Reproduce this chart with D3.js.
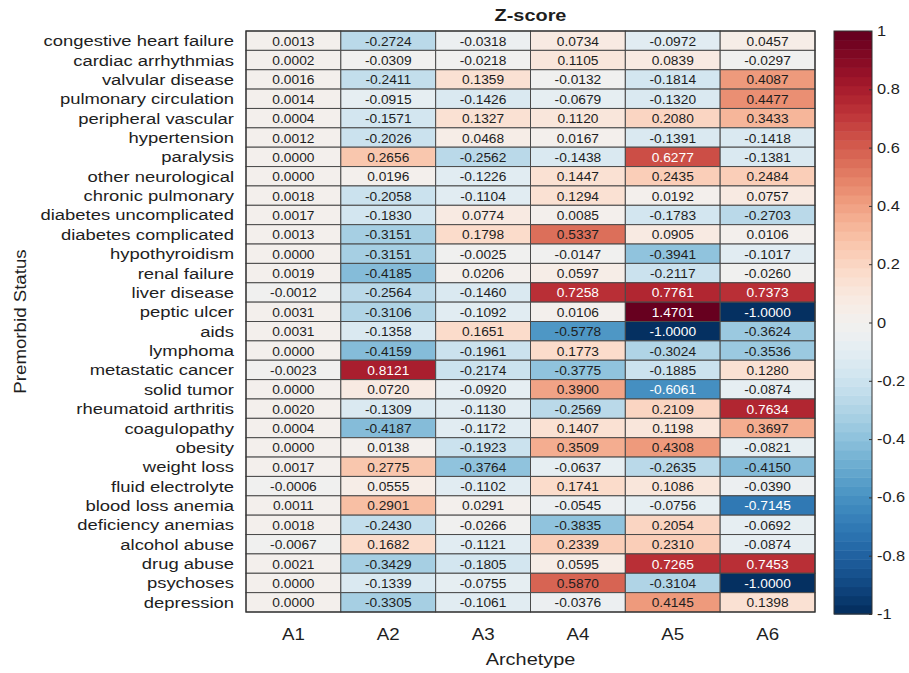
<!DOCTYPE html>
<html>
<head>
<meta charset="utf-8">
<script src="https://cdn.jsdelivr.net/npm/d3@7"></script>
<style>
  html, body { margin: 0; padding: 0; background: #fff; }
  svg { display: block; font-family: "Liberation Sans", Arial, Helvetica, sans-serif; }
</style>
</head>
<body>
<svg id="chart" width="909" height="673"></svg>
<script>
// Premorbid status categories (rows, top to bottom)
const categories = [
  "congestive heart failure", "cardiac arrhythmias", "valvular disease",
  "pulmonary circulation", "peripheral vascular", "hypertension", "paralysis",
  "other neurological", "chronic pulmonary", "diabetes uncomplicated",
  "diabetes complicated", "hypothyroidism", "renal failure", "liver disease",
  "peptic ulcer", "aids", "lymphoma", "metastatic cancer", "solid tumor",
  "rheumatoid arthritis", "coagulopathy", "obesity", "weight loss",
  "fluid electrolyte", "blood loss anemia", "deficiency anemias",
  "alcohol abuse", "drug abuse", "psychoses", "depression"
];

// Archetypes (columns)
const archetypes = ["A1", "A2", "A3", "A4", "A5", "A6"];

// Z-scores per archetype, one entry per category
const zA1 = [0.0013, 0.0002, 0.0016, 0.0014, 0.0004, 0.0012, 0.0000, 0.0000, 0.0018, 0.0017,
             0.0013, 0.0000, 0.0019, -0.0012, 0.0031, 0.0031, 0.0000, -0.0023, 0.0000, 0.0020,
             0.0004, 0.0000, 0.0017, -0.0006, 0.0011, 0.0018, -0.0067, 0.0021, 0.0000, 0.0000];
const zA2 = [-0.2724, -0.0309, -0.2411, -0.0915, -0.1571, -0.2026, 0.2656, 0.0196, -0.2058, -0.1830,
             -0.3151, -0.3151, -0.4185, -0.2564, -0.3106, -0.1358, -0.4159, 0.8121, 0.0720, -0.1309,
             -0.4187, 0.0138, 0.2775, 0.0555, 0.2901, -0.2430, 0.1682, -0.3429, -0.1339, -0.3305];
const zA3 = [-0.0318, -0.0218, 0.1359, -0.1426, 0.1327, 0.0468, -0.2562, -0.1226, -0.1104, 0.0774,
             0.1798, -0.0025, 0.0206, -0.1460, -0.1092, 0.1651, -0.1961, -0.2174, -0.0920, -0.1130,
             -0.1172, -0.1923, -0.3764, -0.1102, 0.0291, -0.0266, -0.1121, -0.1805, -0.0755, -0.1061];
const zA4 = [0.0734, 0.1105, -0.0132, -0.0679, 0.1120, 0.0167, -0.1438, 0.1447, 0.1294, 0.0085,
             0.5337, -0.0147, 0.0597, 0.7258, 0.0106, -0.5778, 0.1773, -0.3775, 0.3900, -0.2569,
             0.1407, 0.3509, -0.0637, 0.1741, -0.0545, -0.3835, 0.2339, 0.0595, 0.5870, -0.0376];
const zA5 = [-0.0972, 0.0839, -0.1814, -0.1320, 0.2080, -0.1391, 0.6277, 0.2435, 0.0192, -0.1783,
             0.0905, -0.3941, -0.2117, 0.7761, 1.4701, -1.0000, -0.3024, -0.1885, -0.6061, 0.2109,
             0.1198, 0.4308, -0.2635, 0.1086, -0.0756, 0.2054, 0.2310, 0.7265, -0.3104, 0.4145];
const zA6 = [0.0457, -0.0297, 0.4087, 0.4477, 0.3433, -0.1418, -0.1381, 0.2484, 0.0757, -0.2703,
             0.0106, -0.1017, -0.0260, 0.7373, -1.0000, -0.3624, -0.3536, 0.1280, -0.0874, 0.7634,
             0.3697, -0.0821, -0.4150, -0.0390, -0.7145, -0.0692, -0.0874, 0.7453, -1.0000, 0.1398];

// Colour bar tick values
const cbarTicks = [1, 0.8, 0.6, 0.4, 0.2, 0, -0.2, -0.4, -0.6, -0.8, -1];

const columns = [zA1, zA2, zA3, zA4, zA5, zA6];
const cells = [];
columns.forEach((col, j) => col.forEach((v, i) => cells.push({ row: categories[i], col: archetypes[j], value: v })));

const svg = d3.select("#chart");
const plot = { left: 246, right: 815, top: 31, bottom: 612 };
const ink = "#1e1e1e";
const stretch = 1.17;   // slightly wide lettering

const x = d3.scaleBand().domain(archetypes).range([plot.left, plot.right]).padding(0);
const y = d3.scaleBand().domain(categories).range([plot.top, plot.bottom]).padding(0);

// 64-level diverging map, red for positive, blue for negative, clipped to [-1, 1]
const nLevels = 64;
const levelColor = d3.range(nLevels).map(k => d3.interpolateRdBu(1 - k / (nLevels - 1)));
const colorOf = v => {
  const k = Math.max(0, Math.min(nLevels - 1, Math.floor((v + 1) / 2 * nLevels)));
  return levelColor[k];
};

// Text helper: anchored at (px, py), stretched horizontally
function label(g, px, py, txt, opts = {}) {
  const t = g.append("text")
    .attr("transform", `translate(${px},${py})${opts.rotate ? ` rotate(${opts.rotate})` : ""} scale(${opts.sx ?? stretch},1)`)
    .attr("text-anchor", opts.anchor || "middle")
    .attr("font-size", opts.size || 16)
    .attr("fill", opts.fill || ink)
    .text(txt);
  if (opts.bold) t.attr("font-weight", "bold");
  return t;
}

// Heatmap cells
svg.append("g").selectAll("rect").data(cells).join("rect")
  .attr("x", d => x(d.col))
  .attr("y", d => y(d.row))
  .attr("width", x.bandwidth())
  .attr("height", y.bandwidth())
  .attr("fill", d => colorOf(d.value))
  .attr("stroke", "#4a4a4a")
  .attr("stroke-width", 1);

// Value labels
const valG = svg.append("g");
cells.forEach(d => {
  label(valG, x(d.col) + x.bandwidth() / 2, y(d.row) + y.bandwidth() / 2 + 5, d.value.toFixed(4), {
    size: 13.5, sx: 1.02, fill: Math.abs(d.value) > 0.6 ? "#ffffff" : ink
  });
});

// Outer frame
svg.append("rect")
  .attr("x", plot.left).attr("y", plot.top)
  .attr("width", plot.right - plot.left).attr("height", plot.bottom - plot.top)
  .attr("fill", "none").attr("stroke", "#333").attr("stroke-width", 1.2);

// Row labels
const rowG = svg.append("g");
categories.forEach(c => label(rowG, 234, y(c) + y.bandwidth() / 2 + 5.5, c, { size: 15.5, anchor: "end", sx: 1.19 }));

// Column labels
const colG = svg.append("g");
archetypes.forEach(a => label(colG, x(a) + x.bandwidth() / 2, 640, a, { size: 16 }));

// Titles
label(svg, (plot.left + plot.right) / 2, 21, "Z-score", { size: 17, bold: true });
label(svg, (plot.left + plot.right) / 2, 665, "Archetype", { size: 17 });
label(svg, 26, (plot.top + plot.bottom) / 2, "Premorbid Status", { size: 17, rotate: -90, sx: 1.1 });

// Colour bar
const cb = { left: 834, right: 872, top: 31, bottom: 614 };
const cy = d3.scaleLinear().domain([-1, 1]).range([cb.bottom, cb.top]);
const step = (cb.bottom - cb.top) / nLevels;
svg.append("g").selectAll("rect").data(d3.range(nLevels)).join("rect")
  .attr("x", cb.left)
  .attr("y", k => cy(-1 + 2 * (k + 1) / nLevels))
  .attr("width", cb.right - cb.left)
  .attr("height", step + 0.5)
  .attr("fill", k => levelColor[k]);
svg.append("rect")
  .attr("x", cb.left).attr("y", cb.top)
  .attr("width", cb.right - cb.left).attr("height", cb.bottom - cb.top)
  .attr("fill", "none").attr("stroke", "#333").attr("stroke-width", 1);

const cAxis = svg.append("g")
  .attr("transform", `translate(${cb.right},0)`)
  .call(d3.axisRight(cy).tickValues(cbarTicks).tickSize(3).tickFormat(() => ""));
cAxis.select(".domain").remove();
cAxis.selectAll("line").attr("stroke", "#333").attr("transform", "translate(-3,0)");
const cbG = svg.append("g");
cbarTicks.forEach(t => label(cbG, cb.right + 5, cy(t) + 5, t < 0 ? "-" + Math.abs(t) : String(t), { size: 14, anchor: "start" }));
</script>
</body>
</html>
